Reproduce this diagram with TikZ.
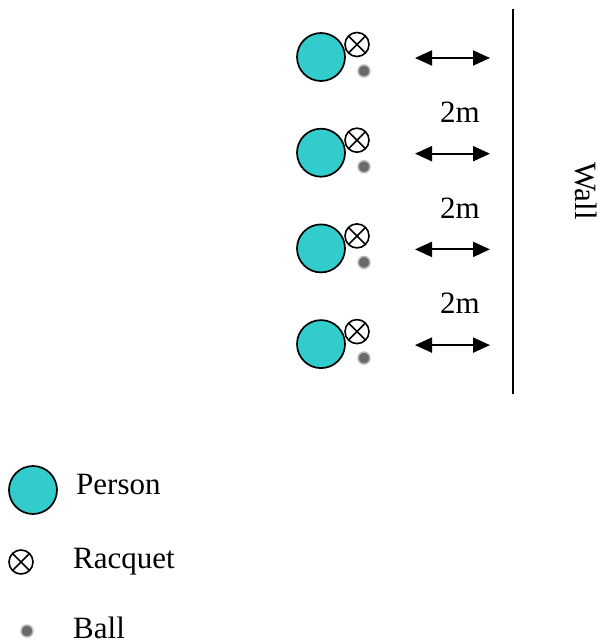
\documentclass[tikz,border=0pt]{standalone}
\usepackage{fontspec}
\setmainfont{Liberation Serif}
\usetikzlibrary{arrows.meta}
\definecolor{personfill}{HTML}{33CCCC}
\definecolor{ballgray}{HTML}{6A6A6A}
\tikzset{
  person/.style={circle, draw=black, line width=1.7pt, fill=personfill, minimum size=48pt, inner sep=0pt},
  racquet/.style={circle, draw=black, line width=1.6pt, fill=white, minimum size=24pt, inner sep=0pt,
    path picture={\draw[line width=1.6pt] (path picture bounding box.north west) -- (path picture bounding box.south east)
      (path picture bounding box.north east) -- (path picture bounding box.south west);}},
  ball/.style={circle, fill=ballgray, draw=ballgray!45, line width=1.5pt, minimum size=12pt, inner sep=0pt},
  gap/.style={arrows={Triangle[length=17pt,width=15pt]-Triangle[length=17pt,width=15pt]}, line width=2pt},
  txt/.style={font=\fontsize{31}{31}\selectfont, inner sep=0pt},
  wall/.style={line width=2.2pt}
}
\begin{document}
\begin{tikzpicture}[x=1pt,y=-1pt]
  \useasboundingbox (0,0) rectangle (608,644);

  % players, racquets and balls, one row every 95.7pt
  \foreach \i in {0,1,2,3} {
    \pgfmathsetmacro{\dy}{95.7*\i}
    \node[person] (p\i) at (321,57+\dy) {};
    \node[racquet] (r\i) at (357,44.5+\dy) {};
    \node[ball] (b\i) at (364,71+\dy) {};
    \coordinate (al\i) at (415,58+\dy);
    \coordinate (ar\i) at (490,58+\dy);
    \draw[gap] (al\i) -- (ar\i);
  }

  % distance labels between rows
  \foreach \i in {1,2,3} {
    \node[txt, anchor=base] (d\i) at (460,122.5+95.7*\i-95.7) {2m};
  }

  % the wall
  \coordinate (wtop) at (513,9);
  \coordinate (wbot) at (513,394);
  \draw[wall] (wtop) -- (wbot);
  \node[txt, rotate=-90] (walltext) at (586,191) {Wall};

  % legend
  \node[person] (lp) at (33,490) {};
  \node[txt, anchor=base west] (lpt) at (76,494) {Person};
  \node[racquet] (lr) at (21,562) {};
  \node[txt, anchor=base west] (lrt) at (73,568) {Racquet};
  \node[ball] (lb) at (27,631) {};
  \node[txt, anchor=base west] (lbt) at (73,638) {Ball};
\end{tikzpicture}
\end{document}
